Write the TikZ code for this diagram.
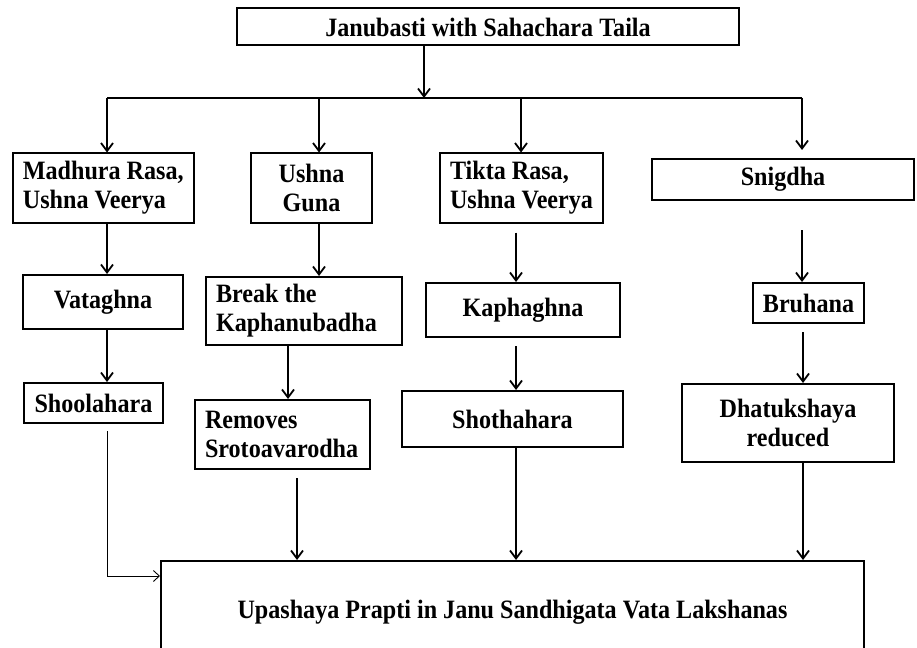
\documentclass[tikz,border=0pt]{standalone}
\usepackage{fontspec}
\setmainfont{Liberation Serif}[FakeStretch=0.91]
\usetikzlibrary{arrows.meta}
\begin{document}
\begin{tikzpicture}[x=1pt,y=-1pt,
  every node/.style={font=\bfseries\fontsize{26.5}{29}\selectfont},
  fbox/.style={draw, line width=2pt, inner sep=0pt, align=center},
  lbox/.style={draw, line width=2pt, inner ysep=0pt, inner xsep=10pt, align=flush left},
  arr/.style={line width=1.8pt, -{Straight Barb[length=8pt,width=12pt,line width=1.8pt]}},
  thinarr/.style={line width=0.9pt, -{Straight Barb[length=6pt,width=11pt,line width=0.9pt]}}
]
\clip (0,0) rectangle (917,647);
% nodes
\node[fbox, minimum width=502pt, minimum height=37pt] (top) at (488,27) {Janubasti with Sahachara Taila};
\node[lbox, text width=161pt, minimum height=69pt] (madhura) at (103.4,188) {Madhura Rasa,\\Ushna Veerya};
\node[fbox, minimum width=121pt, minimum height=69pt] (ushna) at (311.5,188) {Ushna\\Guna};
\node[lbox, text width=143pt, minimum height=69pt] (tikta) at (521.5,188) {Tikta Rasa,\\Ushna Veerya};
\node[fbox, minimum width=262pt, minimum height=41pt] (snigdha) at (783,179.5) {Snigdha};
\node[fbox, minimum width=160pt, minimum height=54pt] (vata) at (103,302) {Vataghna};
\node[lbox, text width=176pt, minimum height=68pt] (breakk) at (304,311) {Break the\\Kaphanubadha};
\node[fbox, minimum width=194pt, minimum height=54pt] (kapha) at (523,310) {Kaphaghna};
\node[fbox, minimum width=111pt, minimum height=40pt] (bruhana) at (808.5,303) {Bruhana};
\node[fbox, minimum width=139pt, minimum height=40pt] (shoola) at (93.5,403) {Shoolahara};
\node[lbox, text width=155pt, minimum height=69pt] (removes) at (282.5,434.5) {Removes\\Srotoavarodha};
\node[fbox, minimum width=221pt, minimum height=56pt] (shotha) at (512.5,419) {Shothahara};
\node[fbox, minimum width=212pt, minimum height=78pt] (dhatu) at (788,423) {Dhatukshaya\\reduced};
\node[fbox, minimum width=703pt, minimum height=102pt] (bottom) at (512.5,612) {Upashaya Prapti in Janu Sandhigata Vata Lakshanas};
% bus coordinates
\coordinate (jn) at (424,98);
\coordinate (bl) at (107,98);
\coordinate (br) at (802,98);
\coordinate (b2) at (319,98);
\coordinate (b3) at (521,98);
\coordinate (snigT) at (802,150);
% column x references
\coordinate (xa) at (107,0);
\coordinate (xb) at (319,0);
\coordinate (xc) at (288,0);
\coordinate (xd) at (297,0);
\coordinate (xe) at (516,0);
\coordinate (xf) at (802,0);
\coordinate (xg) at (803,0);
% connectors
\draw[arr] (top.south -| jn) -- (jn);
\draw[line width=1.8pt] (bl) -- (br);
\draw[arr] (bl) -- (madhura.north -| bl);
\draw[arr] (b2) -- (ushna.north -| b2);
\draw[arr] (b3) -- (tikta.north -| b3);
\draw[arr] (br) -- (snigT);
\draw[arr] (madhura.south -| xa) -- (vata.north -| xa);
\draw[arr] (vata.south -| xa) -- (shoola.north -| xa);
\draw[arr] (ushna.south -| xb) -- (breakk.north -| xb);
\draw[arr] (breakk.south -| xc) -- (removes.north -| xc);
\draw[arr, shorten <=9pt] (tikta.south -| xe) -- (kapha.north -| xe);
\draw[arr, shorten <=8pt] (kapha.south -| xe) -- (shotha.north -| xe);
\draw[arr, shorten <=29pt] (snigdha.south -| xf) -- (bruhana.north -| xf);
\draw[arr, shorten <=8pt] (bruhana.south -| xg) -- (dhatu.north -| xg);
\draw[arr, shorten <=8pt] (removes.south -| xd) -- (bottom.north -| xd);
\draw[arr] (shotha.south -| xe) -- (bottom.north -| xe);
\draw[arr] (dhatu.south -| xg) -- (bottom.north -| xg);
\draw[thinarr, shorten <=7pt] (shoola.south -| xa) |- ([yshift=36pt]bottom.west);
\end{tikzpicture}
\end{document}
